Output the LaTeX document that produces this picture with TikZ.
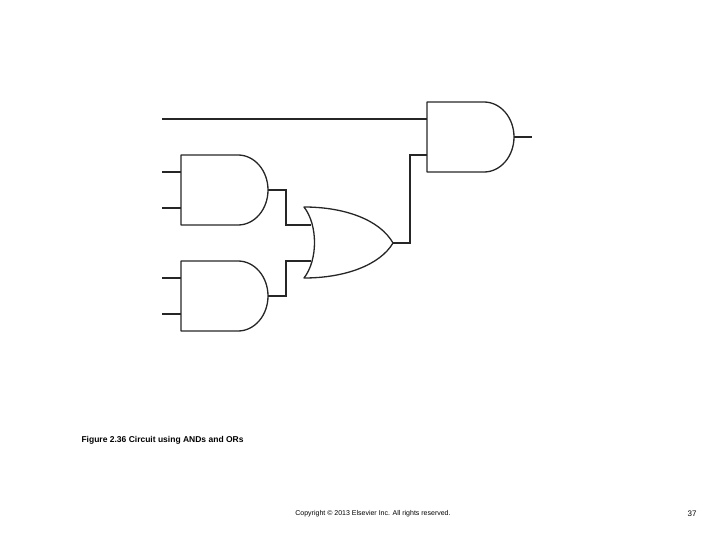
\documentclass[tikz,border=0pt]{standalone}
\usepackage{fontspec}
\setmainfont{Liberation Sans}
\begin{document}
\begin{tikzpicture}[x=1pt,y=-1pt,
    gate/.style={draw=black!85, line width=1.3pt, line join=round},
    wire/.style={draw=black!85, line width=1.3pt},
    caption/.style={font=\bfseries\fontsize{8.5}{10}\selectfont, anchor=west},
    foot/.style={font=\fontsize{7}{8}\selectfont},
]
\useasboundingbox (0,0) rectangle (720,540);

% and gates: left edge, top
\foreach \gname/\gx/\gy in {andA/181/155, andB/181/261, andC/427/102} {
  \draw[gate] (\gx+57,\gy) -- (\gx,\gy) -- (\gx,\gy+70) -- (\gx+57,\gy+70)
    arc[start angle=-90, end angle=90, x radius=30, y radius=-35] -- cycle;
  \coordinate (\gname-in1) at (\gx,\gy+17);
  \coordinate (\gname-in2) at (\gx,\gy+53);
  \coordinate (\gname-out) at (\gx+87,\gy+35);
}

% or gate
\draw[gate] (304,207) .. controls (318,225) and (318,260) .. (304,278)
  .. controls (345,278) and (380,265) .. (393,243)
  .. controls (380,220) and (345,207) .. cycle;
\coordinate (orA-in1) at (311,225);
\coordinate (orA-in2) at (311,261);
\coordinate (orA-out) at (393,243);

% inputs
\foreach \pin in {andA-in1, andA-in2, andB-in1, andB-in2} {
  \coordinate (src-\pin) at ([xshift=-19pt]\pin);
  \draw[wire] (src-\pin) -- (\pin);
}
\coordinate (srcTop) at (162,119);
\draw[wire] (srcTop) -- (andC-in1 |- srcTop);
\coordinate (outEnd) at ([xshift=18pt]andC-out);
\draw[wire] (andC-out) -- (outEnd);

% connections
\draw[wire] (andA-out) -| (286,225) -- (orA-in1);
\draw[wire] (andB-out) -| (286,261) -- (orA-in2);
\draw[wire] (orA-out) -| (410,155) -- (andC-in2 |- 0,155);

\node[caption] (cap) at (78,440) {Figure 2.36 Circuit using ANDs and ORs};
\node[foot] (copy) at (373,514) {Copyright © 2013 Elsevier Inc. All rights reserved.};
\node[foot, font=\fontsize{8}{9}\selectfont] (page) at (692,514) {37};
\end{tikzpicture}
\end{document}
